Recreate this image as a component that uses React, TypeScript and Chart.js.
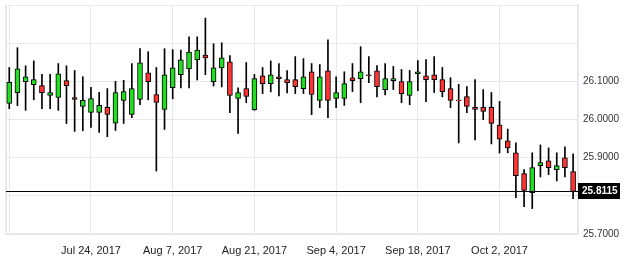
import React, { useEffect, useRef } from "react";
import { Chart, registerables } from "chart.js";

Chart.register(...registerables);

// Daily candles (trading days, Jul 10 2017 .. Oct 13 2017), index = bar position
const opens = [
  26.0421, 26.0706, 26.0991, 26.0914, 26.0888, 26.0629, 26.0577, 26.1017, 26.0577, 26.0344,
  26.0188, 26.0188, 26.0318, 25.9903, 26.0499, 26.0136, 26.0525, 26.1225, 26.0655, 26.0266,
  26.0836, 26.1173, 26.1328, 26.1561, 26.1691, 26.0991, 26.1354, 26.1510, 26.0551, 26.0810,
  26.0257, 26.1147, 26.0940, 26.1121, 26.1043, 26.1043, 26.0810, 26.1250, 26.0499, 26.1276,
  26.0551, 26.0551, 26.1095, 26.1069, 26.1173, 26.1276, 26.0784, 26.1017, 26.0991, 26.0629,
  26.1199, 26.1147, 26.1173, 26.1043, 26.0810, 26.0508, 26.0603, 26.0318, 26.0318, 26.0321,
  25.9852, 25.9438, 25.9127, 25.8583, 25.8080, 25.8790, 25.8920, 25.8687, 25.8997, 25.8635,
];
const highs = [
  26.1363, 26.1881, 26.1406, 26.1535, 26.1181, 26.1181, 26.1466, 26.1406, 26.1285, 26.1121,
  26.0845, 26.0715, 26.0810, 26.1000, 26.1026, 26.1466, 26.1855, 26.1777, 26.1363, 26.1855,
  26.1829, 26.1820, 26.2166, 26.2166, 26.2658, 26.1985, 26.2010, 26.1674, 26.0827, 26.1492,
  26.1181, 26.1363, 26.1535, 26.1466, 26.1285, 26.1648, 26.1596, 26.1466, 26.1440, 26.2088,
  26.1121, 26.1250, 26.1466, 26.1907, 26.1648, 26.1415, 26.1466, 26.1389, 26.1311, 26.1285,
  26.1544, 26.1570, 26.1648, 26.1363, 26.1095, 26.0922, 26.0862, 26.1043, 26.0784, 26.0707,
  26.0474, 25.9749, 25.9386, 25.8687, 25.9127, 25.9334, 25.9256, 25.9127, 25.9282, 25.9101,
];
const lows = [
  26.0283, 26.0361, 26.0240, 26.0516, 26.0283, 26.0283, 26.0240, 25.9895, 25.9687, 25.9705,
  25.9791, 25.9661, 25.9549, 25.9713, 25.9895, 26.0050, 26.0387, 26.0516, 25.8650, 25.9739,
  26.0542, 26.0827, 26.0827, 26.1035, 26.1173, 26.0879, 26.0853, 26.0180, 25.9636, 26.0439,
  26.0240, 26.0680, 26.0724, 26.0620, 26.0698, 26.0680, 26.0680, 26.0128, 26.0309, 26.0050,
  26.0309, 26.0370, 26.0732, 26.0439, 26.0965, 26.0594, 26.0646, 26.0784, 26.0439, 26.0387,
  26.0758, 26.0465, 26.0706, 26.0594, 26.0309, 25.9386, 26.0180, 25.9464, 25.9998, 25.9360,
  25.9122, 25.9127, 25.7951, 25.7718, 25.7666, 25.8495, 25.8557, 25.8391, 25.8495, 25.7925,
];
const closes = [
  26.0974, 26.1328, 26.1121, 26.1043, 26.0706, 26.0706, 26.1199, 26.0888, 26.0525, 26.0499,
  26.0551, 26.0370, 26.0136, 26.0706, 26.0732, 26.0810, 26.1484, 26.0991, 26.0447, 26.1173,
  26.1354, 26.1561, 26.1769, 26.1820, 26.1613, 26.1354, 26.1613, 26.0629, 26.0706, 26.0603,
  26.1069, 26.0940, 26.1173, 26.1069, 26.0965, 26.0862, 26.1121, 26.0655, 26.1121, 26.0499,
  26.0706, 26.0940, 26.1017, 26.1250, 26.1147, 26.0862, 26.1069, 26.1069, 26.0680, 26.0991,
  26.1250, 26.1043, 26.1043, 26.0732, 26.0499, 26.0491, 26.0344, 26.0266, 26.0214, 25.9899,
  25.9484, 25.9256, 25.8526, 25.8142, 25.8738, 25.8868, 25.8738, 25.8790, 25.8738, 25.8115,
];

const lastPrice = 25.8115;

const xTickPositions = [0, 10, 20, 30, 40, 50, 60];
const xTickLabels = ["", "Jul 24, 2017", "Aug 7, 2017", "Aug 21, 2017", "Sep 4, 2017", "Sep 18, 2017", "Oct 2, 2017"];

const yTicks = [25.7, 25.8, 25.9, 26.0, 26.1, 26.2, 26.3];
const yLabelled = [25.7, 25.9, 26.0, 26.1];

const X_MIN = -0.4;
const X_MAX = 69.6;

const GREEN = "#22dd22";
const RED = "#ff3333";
const GRID = "#e6e8ee";
const FONT = "'Liberation Sans', Arial, sans-serif";

const lastPricePlugin = {
  id: "lastPrice",
  afterDatasetsDraw(chart: any) {
    const { ctx, chartArea, scales } = chart;
    const py = Math.round(scales.y.getPixelForValue(lastPrice)) + 0.5;
    ctx.save();
    ctx.strokeStyle = "#000";
    ctx.lineWidth = 1;
    ctx.beginPath();
    ctx.moveTo(chartArea.left, py);
    ctx.lineTo(chartArea.right, py);
    ctx.stroke();
    ctx.restore();
  },
  afterDraw(chart: any) {
    const { ctx, chartArea, scales } = chart;
    const py = Math.round(scales.y.getPixelForValue(lastPrice));
    ctx.save();
    ctx.fillStyle = "#000";
    ctx.fillRect(chartArea.right, py - 8, 42, 16);
    ctx.fillStyle = "#fff";
    ctx.font = "bold 10px " + FONT;
    ctx.textBaseline = "middle";
    ctx.textAlign = "left";
    ctx.fillText(lastPrice.toFixed(4), chartArea.right + 4, py + 0.5);
    ctx.restore();
  },
};

export default function App() {
  const ref = useRef<HTMLCanvasElement | null>(null);

  useEffect(() => {
    if (!ref.current) return;
    const wickData = highs.map((h, i) => ({ x: i, y: [lows[i], h] }));
    const bodyData = opens.map((o, i) => ({ x: i, y: [o, closes[i]] }));
    const bodyColors = opens.map((o, i) => (closes[i] >= o ? GREEN : RED));

    const chart = new Chart(ref.current, {
      type: "bar",
      data: {
        datasets: [
          {
            label: "body",
            data: bodyData as any,
            backgroundColor: bodyColors,
            borderColor: "#000",
            borderWidth: 1,
            borderSkipped: false,
            barThickness: 5,
            grouped: false,
            order: 1,
          } as any,
          {
            label: "wick",
            data: wickData as any,
            backgroundColor: "#000",
            borderWidth: 0,
            barThickness: 1,
            grouped: false,
            order: 2,
          } as any,
        ],
      },
      options: {
        animation: false,
        responsive: true,
        maintainAspectRatio: false,
        layout: { padding: { left: 6, top: 5, right: 0, bottom: 0 } },
        plugins: {
          legend: { display: false },
          tooltip: { enabled: false },
        },
        scales: {
          x: {
            type: "linear",
            min: X_MIN,
            max: X_MAX,
            offset: false,
            afterBuildTicks: (s: any) => {
              s.ticks = [X_MIN, ...xTickPositions, X_MAX].map((v) => ({ value: v }));
            },
            afterFit: (s: any) => {
              s.height = 39;
              s.paddingLeft = 0;
              s.paddingRight = 0;
            },
            ticks: {
              autoSkip: false,
              maxRotation: 0,
              padding: 10,
              color: "#222",
              font: { family: FONT, size: 11 },
              callback: (v: any) => {
                const k = xTickPositions.indexOf(v);
                return k >= 0 ? xTickLabels[k] : "";
              },
            },
            grid: {
              color: GRID,
              offset: false,
              drawTicks: false,
              lineWidth: (c: any) => (c.tick && c.tick.value === X_MIN ? 2 : 1),
            },
            border: { display: true, color: GRID, width: 2 },
          } as any,
          y: {
            position: "right",
            min: 25.7,
            max: 26.3,
            afterBuildTicks: (s: any) => {
              s.ticks = yTicks.map((v) => ({ value: v }));
            },
            afterFit: (s: any) => {
              s.width = 55;
              s.paddingTop = 0;
              s.paddingBottom = 0;
            },
            ticks: {
              padding: 5,
              color: "#333",
              font: { family: FONT, size: 10 },
              callback: (v: any) => (yLabelled.includes(v) ? Number(v).toFixed(4) : ""),
            },
            grid: { color: GRID, drawTicks: false },
            border: { display: true, color: GRID, width: 2 },
          } as any,
        },
      },
      plugins: [lastPricePlugin],
    });
    return () => chart.destroy();
  }, []);

  return (
    <div style={{ position: "fixed", left: 0, top: 0, width: 633, height: 273, background: "#fff" }}>
      <canvas ref={ref} />
    </div>
  );
}
